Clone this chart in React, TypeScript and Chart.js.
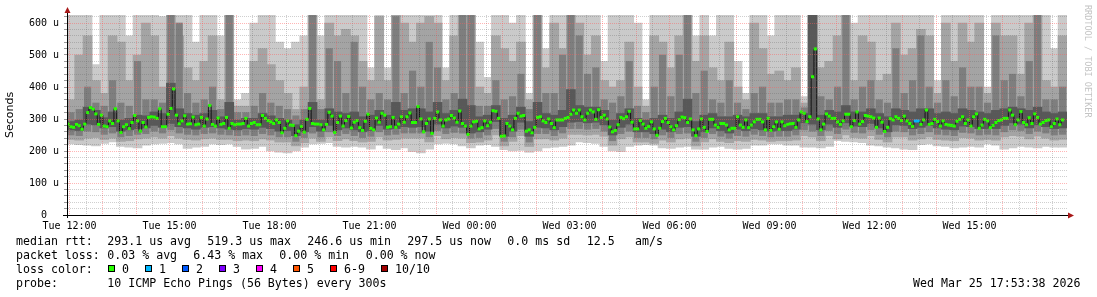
import React, { useEffect, useRef } from 'react';
import { Chart, registerables } from 'chart.js';

Chart.register(...registerables);

// ---------------- data ----------------
const xTickLabels = ['Tue 12:00', 'Tue 15:00', 'Tue 18:00', 'Tue 21:00', 'Wed 00:00', 'Wed 03:00', 'Wed 06:00', 'Wed 09:00', 'Wed 12:00', 'Wed 15:00'];
const yTickLabels = ['0  ', '100 u', '200 u', '300 u', '400 u', '500 u', '600 u'];

// median rtt per 5-minute step (microseconds)
const medianRtt = [
  284,276,274,283,279,268,284,320,336,331,316,283,312,278,276,294,286,332,294,258,276,282,270,289,311,294,262,289,275,305,
  307,306,302,332,276,276,315,333,394,312,285,294,310,284,285,306,282,284,305,278,300,342,283,278,303,283,286,305,271,286,
  282,284,284,286,302,278,286,289,282,282,311,302,295,291,286,297,289,257,271,294,281,280,248,262,277,259,299,333,286,284,284,
  282,266,283,321,309,258,289,309,278,295,308,272,290,295,273,264,293,315,271,266,303,290,318,312,274,276,305,274,284,307,
  290,307,319,289,289,339,300,260,286,300,255,302,322,297,278,297,300,311,303,290,325,286,278,252,278,291,293,269,273,294,
  279,290,326,324,302,246,247,286,278,266,302,318,309,311,262,266,257,274,305,307,294,289,300,286,273,297,297,297,302,305,315,328,
  318,
  328,307,297,318,328,322,299,329,305,312,300,275,260,264,282,305,301,307,324,290,269,269,295,284,271,277,291,269,249,271,
  292,302,289,276,266,279,298,306,304,289,300,266,248,269,300,274,261,299,299,281,274,286,286,281,266,271,271,307,281,274,
  297,273,281,291,299,299,291,266,302,264,276,291,268,291,279,283,285,286,274,297,322,318,292,307,432,519,300,266,284,316,309,
  302,302,291,283,294,315,315,276,295,322,284,292,311,309,307,303,274,303,290,261,274,301,297,307,302,295,309,294,286,277,
  294,294,283,297,328,283,286,299,292,278,294,283,281,280,278,293,299,307,286,297,278,307,316,271,281,299,294,273,280,289,
  295,297,302,302,328,312,282,297,323,289,282,304,286,316,305,284,289,295,297,276,286,300,282,297
];

// steps with 1 of 10 pings lost
const lossSteps = [305, 306];

// smoke: sorted ping values per 15-minute column (p10 = slowest ... p1 = fastest)
const smokeMax = [
  650,650,650,470,650,650,650,560,650,650, 650,620,650,650,650,540,650,650,560,650,
  360,380,600,650,650,540,520,540,560,650, 560,650,650,650,650,650,460,650,460,650,
  650,650,650,650,650,460,650,650,650,540, 430,650,650,600,650,380,650,520,650,650,
  650,650,650,650,480,650,650,650,600,360, 650,650,650,650,650,560,650,560,650,650,
  480,380,650,650,560,650,650,650,370,650, 650,650,650,650,600,650,650,650,650,650,
  650,650,650,650,420,650,650,650,650,650, 400,650,650,650,640,650,650,650,520,650
];
const smokeP9 = [
  360,500,560,420,380,560,540,420,500,600, 560,400,650,560,460,420,480,560,360,650,
  340,340,480,520,470,420,380,330,400,650, 360,600,560,580,560,480,420,620,420,650,
  600,540,600,620,600,420,560,650,650,400, 380,560,520,480,540,360,650,460,600,520,
  650,600,500,560,420,400,420,540,400,340, 560,540,460,560,650,480,560,460,420,540,
  400,360,600,520,440,450,420,460,350,650, 460,480,560,650,420,560,540,420,440,600,
  500,520,580,560,380,600,480,600,540,600, 380,600,560,560,440,600,650,420,400,560
];
const smokeP8 = [
  320,330,400,350,340,420,350,340,480,360, 360,350,650,600,380,350,360,400,330,650,
  320,320,340,380,350,340,330,310,330,650, 330,520,480,380,540,400,360,380,360,620,
  380,450,400,540,460,360,380,650,650,340, 340,420,360,370,440,330,650,380,380,500,
  650,560,440,460,360,350,370,480,340,320, 400,500,370,500,650,380,450,360,350,420,
  350,330,380,400,350,350,360,360,335,650, 370,360,400,650,360,400,420,360,350,520,
  380,420,560,400,350,420,370,460,400,400, 350,560,420,440,370,480,650,360,360,400
];
const smokeP7 = [
  292,297,337,327,304,322,297,302,312,310, 322,317,412,332,317,312,317,327,307,352,
  297,302,302,317,310,302,297,282,297,352, 297,332,322,317,322,307,312,327,312,352,
  327,332,332,322,352,317,327,362,342,307, 312,342,302,312,337,292,352,317,312,327,
  392,342,337,337,327,297,317,332,302,297, 302,312,302,322,362,292,312,317,307,307,
  312,307,317,317,307,307,312,312,317,650, 312,327,322,342,322,322,332,317,307,332,
  327,322,332,332,317,322,317,332,327,322, 317,327,332,337,332,327,337,322,317,322
];
const smokeP4 = [
  266,264,284,282,272,276,262,266,270,272, 280,274,286,276,272,268,274,276,272,268,
  266,270,268,274,270,262,264,248,260,276, 262,280,266,272,266,260,264,280,268,270,
  276,274,276,262,284,272,278,274,256,260, 268,292,246,262,290,246,274,272,266,276,
  290,292,288,290,282,250,274,284,260,260, 254,268,260,274,276,246,260,272,264,256,
  268,264,270,266,262,264,264,268,288,284, 266,284,274,288,278,276,286,272,260,282,
  280,270,274,280,272,268,266,278,276,270, 270,270,280,288,284,272,282,276,270,272
];
const smokeP3 = [
  250,248,262,260,252,256,244,248,252,254, 262,256,266,256,252,250,254,256,252,250,
  248,250,248,254,250,244,244,230,242,256, 244,260,248,254,248,242,246,260,250,252,
  256,256,256,244,264,254,258,256,240,242, 250,270,230,244,268,228,254,254,248,256,
  270,270,268,270,262,232,254,262,242,242, 238,250,242,254,256,230,242,254,246,240,
  248,246,252,248,244,246,246,250,266,262, 248,264,254,268,258,256,266,252,244,262,
  260,250,254,260,252,250,248,258,256,250, 252,250,260,266,264,254,262,256,250,252
];
const smokeP2 = [
  236,234,240,242,236,240,230,232,238,240, 244,240,248,240,236,234,238,240,236,236,
  232,234,232,238,234,228,228,216,226,240, 230,244,232,238,232,228,230,244,234,236,
  240,240,240,228,248,238,242,240,226,228, 234,250,216,230,248,214,238,238,234,240,
  252,252,250,252,246,218,238,244,228,228, 224,234,228,238,240,216,228,238,230,226,
  232,230,236,234,230,232,232,234,248,244, 232,248,238,250,242,240,248,236,228,244,
  244,234,238,244,236,234,232,242,240,234, 236,234,244,248,246,238,246,240,234,236
];
const smokeMin = [
  222,220,218,216,224,228,214,212,210,218, 222,224,226,222,208,212,214,222,220,222,
  214,206,208,214,200,196,194,200,212,222, 224,226,214,212,214,212,206,218,208,204,
  210,198,194,206,222,224,222,216,210,218, 220,214,204,200,202,196,200,210,212,214,
  218,228,226,224,214,200,198,214,218,220, 218,210,208,212,214,206,206,212,214,208,
  206,208,218,218,222,222,218,218,212,212, 210,214,232,230,228,226,218,216,212,210,
  206,204,220,222,216,214,210,212,214,212, 222,218,206,210,214,212,210,214,212,212
];

const lossLabels = ['0', '1', '2', '3', '4', '5', '6-9', '10/10'];
const lossColors = ['#26ff00', '#00b8ff', '#0059ff', '#7e00ff', '#ff00ff', '#ff5500', '#ff0000', '#a00000'];
const smokeColors = ['#cacaca', '#a4a4a4', '#7e7e7e', '#585858'];

const rttLegend = ['median rtt:', '293.1 us avg', '519.3 us max', '246.6 us min', '297.5 us now', '0.0 ms sd', '12.5', 'am/s'];
const lossLegend = ['packet loss:', '0.03 % avg', '6.43 % max', '0.00 % min', '0.00 % now'];
const colorLegendTitle = 'loss color:';
const probeLegend = ['probe:', '10 ICMP Echo Pings (56 Bytes) every 300s'];
const dateText = 'Wed Mar 25 17:53:38 2026';
const watermark = 'RRDTOOL / TOBI OETIKER';

// ---------------- chart ----------------
const W = 1097;
const H = 297;
const MONO = '"DejaVu Sans Mono", monospace';

export default function App() {
  const ref = useRef<HTMLCanvasElement>(null);

  useEffect(() => {
    document.body.style.margin = '0';
    const canvas = ref.current;
    if (!canvas) return;

    const STEP = 5; // minutes per step
    const T_FIRST = -2.5; // minutes relative to Tue 12:00
    const COL = 15;
    const C_FIRST = 2.5;

    const medianPts = medianRtt.map((v, i) => ({ x: T_FIRST + STEP * i, y: v }));
    const band = (lo: number[], hi: number[]) => lo.map((l, c) => ({ x: C_FIRST + COL * c, y: [l, hi[c]] }));

    const MAJOR = 'rgba(255,90,90,0.45)';
    const MINOR = 'rgba(95,95,95,0.3)';

    const barCommon: any = {
      type: 'bar',
      grouped: false,
      barThickness: 9,
      borderWidth: 0,
      borderSkipped: false,
      clip: 0,
    };

    const xTicks = Array.from({ length: 60 }, (_, i) => i * 30);
    const yTicks = Array.from({ length: 32 }, (_, i) => i * 20);

    const decor = {
      id: 'decor',
      beforeDraw(chart: any) {
        const ctx = chart.ctx;
        ctx.save();
        ctx.fillStyle = '#ffffff';
        ctx.fillRect(0, 0, W, H);
        ctx.restore();
      },
      afterDraw(chart: any) {
        const ctx = chart.ctx;
        const a = chart.chartArea;
        ctx.save();
        // axis extensions
        ctx.strokeStyle = '#000';
        ctx.lineWidth = 1;
        ctx.beginPath();
        ctx.moveTo(63, a.bottom + 0.5);
        ctx.lineTo(a.right + 2, a.bottom + 0.5);
        ctx.moveTo(a.left + 0.5, a.top);
        ctx.lineTo(a.left + 0.5, a.top - 3);
        ctx.moveTo(a.left + 0.5, a.bottom);
        ctx.lineTo(a.left + 0.5, a.bottom + 3);
        ctx.stroke();
        // arrows
        ctx.fillStyle = '#a81818';
        ctx.beginPath();
        ctx.moveTo(a.left - 2.5, a.top - 2);
        ctx.lineTo(a.left + 3.5, a.top - 2);
        ctx.lineTo(a.left + 0.5, a.top - 8);
        ctx.closePath();
        ctx.fill();
        ctx.beginPath();
        ctx.moveTo(a.right + 1, a.bottom - 2.5);
        ctx.lineTo(a.right + 1, a.bottom + 3.5);
        ctx.lineTo(a.right + 7, a.bottom + 0.5);
        ctx.closePath();
        ctx.fill();

        // watermark
        ctx.save();
        ctx.translate(1087.5, 5);
        ctx.rotate(Math.PI / 2);
        ctx.font = `8.5px ${MONO}`;
        ctx.fillStyle = '#c4c4c4';
        ctx.textAlign = 'left';
        ctx.textBaseline = 'middle';
        ctx.fillText(watermark, 0, 0);
        ctx.restore();

        // legend
        ctx.font = `11.6px ${MONO}`;
        ctx.fillStyle = '#000';
        ctx.textAlign = 'left';
        ctx.textBaseline = 'alphabetic';
        const rttX = [16, 107.3, 207.3, 307.3, 407.3, 507.3, 586.7, 635];
        rttLegend.forEach((s, i) => ctx.fillText(s, rttX[i], 244.5));
        const lossX = [16, 107.3, 193.3, 279.3, 365.7];
        lossLegend.forEach((s, i) => ctx.fillText(s, lossX[i], 258.5));
        ctx.fillText(colorLegendTitle, 16, 272.5);
        const boxX = [108, 145, 182, 219, 256, 293, 330, 381];
        lossLabels.forEach((s, i) => {
          ctx.fillStyle = lossColors[i];
          ctx.fillRect(boxX[i], 265, 7, 7);
          ctx.strokeStyle = '#000';
          ctx.lineWidth = 1;
          ctx.strokeRect(boxX[i] + 0.5, 265.5, 6, 6);
          ctx.fillStyle = '#000';
          ctx.fillText(s, boxX[i] + 14, 272.5);
        });
        const probeX = [16, 107.3];
        probeLegend.forEach((s, i) => ctx.fillText(s, probeX[i], 286.5));
        ctx.textAlign = 'right';
        ctx.fillText(dateText, 1080.5, 286.5);
        ctx.restore();
      },
    };

    const chart = new Chart(canvas, {
      type: 'line',
      data: {
        datasets: [
          {
            type: 'line',
            data: medianPts,
            showLine: false,
            pointStyle: 'line',
            pointRadius: 1.6,
            pointHoverRadius: 1.6,
            pointBorderWidth: 3,
            pointHoverBorderWidth: 3,
            pointBorderColor: (c: any) => (lossSteps.includes(c.dataIndex) ? lossColors[1] : lossColors[0]),
            pointBackgroundColor: (c: any) => (lossSteps.includes(c.dataIndex) ? lossColors[1] : lossColors[0]),
            order: 0,
            clip: 0,
          } as any,
          {
            type: 'line',
            data: medianPts,
            stepped: 'middle',
            borderColor: '#151515',
            borderWidth: 1,
            pointRadius: 0,
            fill: false,
            order: 1,
            clip: 0,
          } as any,
          { ...barCommon, data: band(smokeP4, smokeP7), backgroundColor: smokeColors[3], order: 2 },
          { ...barCommon, data: band(smokeP3, smokeP8), backgroundColor: smokeColors[2], order: 3, barThickness: 6.5 },
          { ...barCommon, data: band(smokeP2, smokeP9), backgroundColor: smokeColors[1], order: 4 },
          { ...barCommon, data: band(smokeMin, smokeMax), backgroundColor: smokeColors[0], order: 5 },
        ],
      },
      options: {
        responsive: false,
        animation: false,
        devicePixelRatio: 1,
        events: [],
        layout: { padding: { top: 15, right: 30, bottom: 0, left: 0 } },
        plugins: { legend: { display: false }, tooltip: { enabled: false }, title: { display: false } },
        scales: {
          x: {
            type: 'linear',
            min: -4.5,
            max: 1795.5,
            offset: false,
            afterBuildTicks: (s: any) => {
              s.ticks = xTicks.map((v) => ({ value: v }));
            },
            afterFit: (s: any) => {
              s.height = 82;
            },
            ticks: {
              autoSkip: false,
              maxRotation: 0,
              minRotation: 0,
              padding: 5,
              color: '#000',
              font: { family: MONO, size: 10 },
              callback: (v: any) => {
                const i = Number(v) / 180;
                return Number.isInteger(i) && i < xTickLabels.length ? xTickLabels[i] : '';
              },
            },
            grid: {
              z: 1,
              offset: false,
              drawTicks: false,
              lineWidth: 1,
              color: (c: any) => (c.tick && c.tick.value % 60 === 0 ? MAJOR : MINOR),
            },
            border: { display: true, color: '#000', width: 1, dash: [1, 1], z: 2 },
          },
          y: {
            type: 'linear',
            min: 0,
            max: 625,
            afterBuildTicks: (s: any) => {
              s.ticks = yTicks.map((v) => ({ value: v }));
            },
            afterFit: (s: any) => {
              s.width = 67;
            },
            ticks: {
              autoSkip: false,
              padding: 5,
              color: '#000',
              font: { family: MONO, size: 10 },
              callback: (v: any) => (Number(v) % 100 === 0 ? yTickLabels[Number(v) / 100] : ''),
            },
            grid: {
              z: 1,
              lineWidth: 1,
              drawTicks: true,
              tickLength: 3,
              tickColor: 'rgba(90,90,90,0.6)',
              color: (c: any) => (c.tick && c.tick.value % 100 === 0 ? MAJOR : MINOR),
            },
            border: { display: true, color: '#000', width: 1, dash: [1, 1], z: 2 },
            title: {
              display: true,
              text: 'Seconds',
              color: '#000',
              font: { family: '"DejaVu Sans", sans-serif', size: 11 },
              padding: { top: 4, bottom: 0 },
            },
          },
        },
      } as any,
      plugins: [decor],
    });

    return () => chart.destroy();
  }, []);

  return <canvas ref={ref} width={W} height={H} style={{ display: 'block' }} />;
}
